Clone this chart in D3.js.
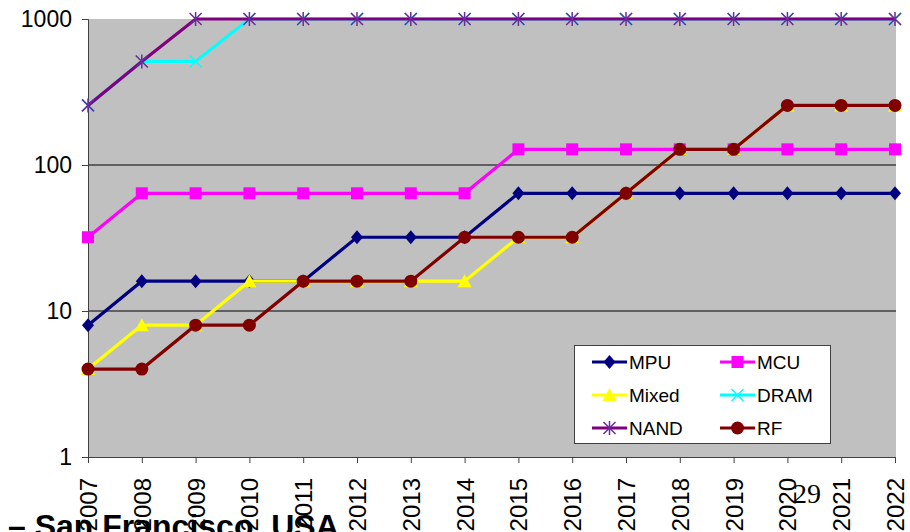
<!DOCTYPE html>
<html><head><meta charset="utf-8">
<script src="https://cdn.jsdelivr.net/npm/d3@7"></script>
<style>html,body{margin:0;padding:0;background:#fff;overflow:hidden}</style>
</head><body>
<svg id="c" width="910" height="532"></svg>
<script>
const years = [2007,2008,2009,2010,2011,2012,2013,2014,2015,2016,2017,2018,2019,2020,2021,2022];
const mpu   = [8,16,16,16,16,32,32,32,64,64,64,64,64,64,64,64];
const mcu   = [32,64,64,64,64,64,64,64,128,128,128,128,128,128,128,128];
const mixed = [4,8,8,16,16,16,16,16,32,32,64,128,128,256,256,256];
const dram  = [256,512,512,1000,1000,1000,1000,1000,1000,1000,1000,1000,1000,1000,1000,1000];
const nand  = [256,512,1000,1000,1000,1000,1000,1000,1000,1000,1000,1000,1000,1000,1000,1000];
const rf    = [4,4,8,8,16,16,16,32,32,32,64,128,128,256,256,256];
const yTicks = [1,10,100,1000];

const series = [
  {name:"MPU", values:mpu, color:"#000080", marker:"diamond"},
  {name:"MCU", values:mcu, color:"#ff00ff", marker:"square"},
  {name:"Mixed", values:mixed, color:"#ffff00", marker:"triangle"},
  {name:"DRAM", values:dram, color:"#00ffff", marker:"x"},
  {name:"NAND", values:nand, color:"#800080", marker:"star"},
  {name:"RF", values:rf, color:"#800000", marker:"circle"}
];

const svg = d3.select("#c");
const L=88, R=895, T=19, B=457;
const x = d3.scaleLinear().domain([2007,2022]).range([L,R]);
const y = d3.scaleLog().domain([1,1000]).range([B,T]);

svg.append("rect").attr("x",L).attr("y",T).attr("width",R-L+1).attr("height",B-T).attr("fill","#c0c0c0");

// gridlines
svg.append("g").selectAll("line").data(yTicks.slice(1,-1)).join("line")
  .attr("x1",L).attr("x2",R+1).attr("y1",d=>y(d)).attr("y2",d=>y(d))
  .attr("stroke","#000").attr("stroke-width",1);

// axes
const yAxis = d3.axisLeft(y).tickValues(yTicks).tickFormat(d3.format("d")).tickSize(6).tickPadding(10);
const gy = svg.append("g").attr("transform",`translate(${L},0)`).call(yAxis);
gy.select(".domain").attr("stroke","#404040");
gy.selectAll(".tick line").attr("stroke","#404040");
gy.selectAll("text").attr("font-family","Arial, Liberation Sans, sans-serif").attr("font-size",23).attr("fill","#000");

// bottom text (behind tick labels)
svg.append("text").attr("x",8).attr("y",537).attr("font-family","Arial, Liberation Sans, sans-serif")
  .attr("font-weight","bold").attr("font-size",32).attr("fill","#000").text("– San Francisco, USA");
svg.append("text").attr("x",793).attr("y",503).attr("font-family","Times New Roman, Liberation Serif, serif")
  .attr("font-size",28).attr("fill","#000").text("29");

const xAxis = d3.axisBottom(x).tickValues(years).tickFormat(d3.format("d")).tickSize(6).tickPadding(0);
const gx = svg.append("g").attr("transform",`translate(0,${B})`).call(xAxis);
gx.select(".domain").attr("stroke","#404040");
gx.selectAll(".tick line").attr("stroke","#404040");
gx.selectAll("text").attr("font-family","Arial, Liberation Sans, sans-serif").attr("font-size",24).attr("fill","#000")
  .attr("text-anchor","end").attr("dy","0.35em").attr("transform","translate(0,21) rotate(-90)").attr("y",0).attr("x",0);

function drawMarker(g, type, color, size){
  const s=size;
  if(type==="diamond"){
    g.append("path").attr("d",`M0,${-s/2-1}L${s/2},0L0,${s/2+1}L${-s/2},0Z`).attr("fill",color);
  } else if(type==="square"){
    g.append("rect").attr("x",-s/2).attr("y",-s/2).attr("width",s).attr("height",s).attr("fill",color);
  } else if(type==="triangle"){
    g.append("path").attr("d",`M0,${-s/2-1}L${s/2+1},${s/2}L${-s/2-1},${s/2}Z`).attr("fill",color);
  } else if(type==="circle"){
    g.append("circle").attr("r",s/2+0.5).attr("fill",color);
  } else if(type==="x"){
    const h=s/2;
    g.append("path").attr("d",`M${-h},${-h}L${h},${h}M${-h},${h}L${h},${-h}`).attr("stroke",color).attr("stroke-width",1.5);
  } else if(type==="star"){
    const h=s/2;
    g.append("path").attr("d",`M${-h},${-h}L${h},${h}M${-h},${h}L${h},${-h}M0,${-h-1}L0,${h+1}`).attr("stroke","#6a2c9a").attr("stroke-width",1.5);
  }
}

const line = d3.line().x((d,i)=>x(years[i])).y(d=>y(d));
series.forEach(s=>{
  const g = svg.append("g");
  g.append("path").attr("d",line(s.values)).attr("fill","none").attr("stroke",s.color).attr("stroke-width",3.2);
  s.values.forEach((v,i)=>{
    const m = g.append("g").attr("transform",`translate(${x(years[i])},${y(v)})`);
    drawMarker(m, s.marker, s.color, 12);
  });
});

// legend
const lg = svg.append("g");
lg.append("rect").attr("x",574.5).attr("y",345.5).attr("width",256).attr("height",98).attr("fill","#fff").attr("stroke","#404040").attr("stroke-width",1);
const colX=[592,720], rowY=[362,395,428];
series.forEach((s,i)=>{
  const cx=colX[i%2], cy=rowY[Math.floor(i/2)];
  lg.append("line").attr("x1",cx).attr("x2",cx+35).attr("y1",cy).attr("y2",cy).attr("stroke",s.color).attr("stroke-width",3.2);
  const m = lg.append("g").attr("transform",`translate(${cx+17.5},${cy})`);
  drawMarker(m, s.marker, s.color, 12);
  lg.append("text").attr("x",cx+37).attr("y",cy).attr("dy","0.35em").attr("font-family","Arial, Liberation Sans, sans-serif")
    .attr("font-size",19).attr("fill","#000").text(s.name);
});
</script>
</body></html>
